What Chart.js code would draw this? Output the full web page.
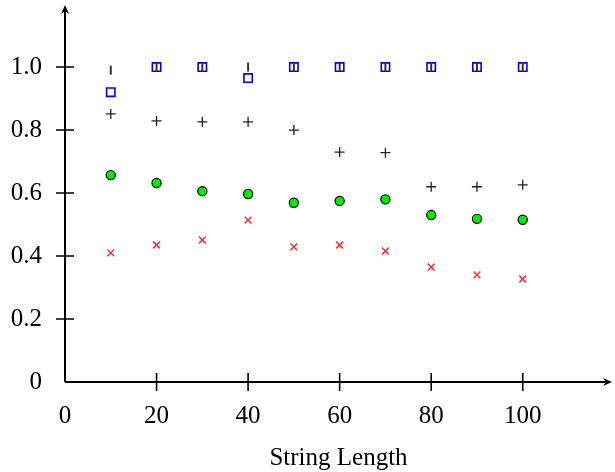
<!DOCTYPE html>
<html>
<head>
<meta charset="utf-8">
<script src="https://cdn.jsdelivr.net/npm/chart.js@4"></script>
<style>
  html, body { margin: 0; padding: 0; background: #fff; }
  #wrap { width: 615px; height: 472px; }
</style>
</head>
<body>
<div id="wrap"><canvas id="myChart"></canvas></div>
<script>
// string lengths on the x axis
const lengths = [10, 20, 30, 40, 50, 60, 70, 80, 90, 100];

// series values
const dashVals   = [0.99, 1.0, 1.0, 1.0, 1.0, 1.0, 1.0, 1.0, 1.0, 1.0];
const squareVals = [0.92, 1.0, 1.0, 0.965, 1.0, 1.0, 1.0, 1.0, 1.0, 1.0];
const plusVals   = [0.851, 0.829, 0.826, 0.826, 0.80, 0.73, 0.728, 0.62, 0.62, 0.626];
const circleVals = [0.657, 0.632, 0.606, 0.597, 0.569, 0.575, 0.580, 0.530, 0.518, 0.515];
const crossVals  = [0.41, 0.435, 0.451, 0.514, 0.429, 0.435, 0.416, 0.365, 0.340, 0.327];

const xTicks = [0, 20, 40, 60, 80, 100];
const yTicks = [0, 0.2, 0.4, 0.6, 0.8, 1.0];
const xTitle = "String Length";

const FONT = "'Liberation Serif', 'DejaVu Serif', serif";

function pts(vals) {
    return lengths.map((x, i) => ({ x: x, y: vals[i] }));
}

// draws the two arrowed axes and their cross tick marks
const axesPlugin = {
    id: "axes",
    afterDraw(chart) {
        const ctx = chart.ctx;
        const xs = chart.scales.x, ys = chart.scales.y;
        const x0 = xs.getPixelForValue(0);
        const y0 = ys.getPixelForValue(0);
        const right = chart.chartArea.right;
        const top = chart.chartArea.top;
        ctx.save();
        ctx.strokeStyle = "#000";
        ctx.fillStyle = "#000";
        ctx.lineWidth = 2;
        ctx.beginPath();
        ctx.moveTo(x0, y0);
        ctx.lineTo(right - 4, y0);
        ctx.moveTo(x0, y0);
        ctx.lineTo(x0, top + 4);
        ctx.stroke();
        // arrow heads
        ctx.beginPath();
        ctx.moveTo(right, y0);
        ctx.lineTo(right - 9, y0 - 4);
        ctx.lineTo(right - 6, y0);
        ctx.lineTo(right - 9, y0 + 4);
        ctx.closePath();
        ctx.fill();
        ctx.beginPath();
        ctx.moveTo(x0, top);
        ctx.lineTo(x0 - 4, top + 9);
        ctx.lineTo(x0, top + 6);
        ctx.lineTo(x0 + 4, top + 9);
        ctx.closePath();
        ctx.fill();
        // tick marks
        ctx.lineWidth = 1.6;
        ctx.beginPath();
        xTicks.forEach(v => {
            if (v === 0) return;
            const px = xs.getPixelForValue(v);
            ctx.moveTo(px, y0 - 9);
            ctx.lineTo(px, y0 + 9);
        });
        yTicks.forEach(v => {
            if (v === 0) return;
            const py = ys.getPixelForValue(v);
            ctx.moveTo(x0 - 9, py);
            ctx.lineTo(x0 + 9, py);
        });
        ctx.stroke();
        ctx.restore();
    }
};

new Chart(document.getElementById("myChart"), {
    type: "scatter",
    data: {
        datasets: [
            {
                label: "crossRot",
                data: pts(crossVals),
                pointStyle: "crossRot",
                pointRadius: 4.8,
                borderColor: "#ff2a2a",
                borderWidth: 1.5
            },
            {
                label: "circle",
                data: pts(circleVals),
                pointStyle: "circle",
                pointRadius: 4.6,
                backgroundColor: "#00ee00",
                borderColor: "#000",
                borderWidth: 1.2
            },
            {
                label: "plus",
                data: pts(plusVals),
                pointStyle: "cross",
                pointRadius: 5,
                borderColor: "#222",
                borderWidth: 1.3
            },
            {
                label: "dash",
                data: pts(dashVals),
                pointStyle: "line",
                rotation: 90,
                pointRadius: 4.5,
                borderColor: "#333",
                borderWidth: 2
            },
            {
                label: "square",
                data: pts(squareVals),
                pointStyle: "rect",
                pointRadius: 5.9,
                backgroundColor: "rgba(0,0,0,0)",
                borderColor: "#0000ff",
                borderWidth: 1.6
            }
        ]
    },
    options: {
        responsive: true,
        maintainAspectRatio: false,
        animation: false,
        layout: { autoPadding: false, padding: { top: 5, right: 3, left: 0, bottom: 0 } },
        plugins: {
            legend: { display: false },
            tooltip: { enabled: false }
        },
        scales: {
            x: {
                type: "linear",
                min: 0,
                max: 119.5,
                afterBuildTicks: s => { s.ticks = xTicks.map(v => ({ value: v })); },
                afterFit: s => { s.height = 90; s.paddingLeft = 0; s.paddingRight = 0; },
                grid: { display: false, drawTicks: false },
                border: { display: false },
                ticks: {
                    color: "#000",
                    padding: 19,
                    maxRotation: 0,
                    font: { family: FONT, size: 25 }
                },
                title: {
                    display: true,
                    text: xTitle,
                    color: "#000",
                    padding: { top: 0, bottom: -1 },
                    font: { family: FONT, size: 25 }
                }
            },
            y: {
                type: "linear",
                min: 0,
                max: 1.197,
                afterBuildTicks: s => { s.ticks = yTicks.map(v => ({ value: v })); },
                afterFit: s => { s.width = 65; s.paddingTop = 0; s.paddingBottom = 0; },
                grid: { display: false, drawTicks: false },
                border: { display: false },
                ticks: {
                    color: "#000",
                    padding: 23,
                    font: { family: FONT, size: 25 },
                    callback: v => v === 0 ? "0" : v.toFixed(1)
                }
            }
        }
    },
    plugins: [axesPlugin]
});
</script>
</body>
</html>
